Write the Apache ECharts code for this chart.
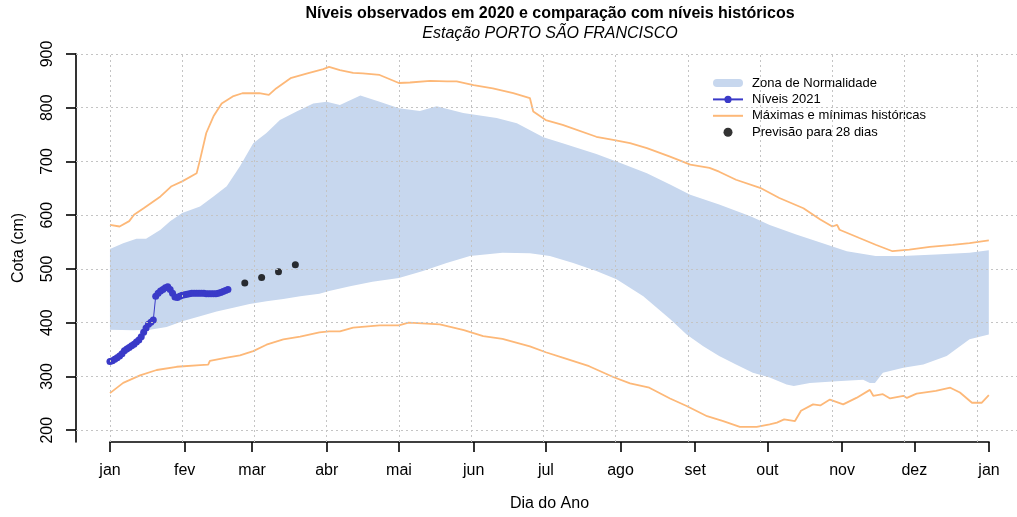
<!DOCTYPE html>
<html>
<head>
<meta charset="utf-8">
<script src="https://cdn.jsdelivr.net/npm/echarts/dist/echarts.min.js"></script>
<style>
  html, body { margin: 0; padding: 0; background: #fff; }
  #chart { width: 1017px; height: 517px; }
</style>
</head>
<body>
<div id="chart"></div>
<script>
// dia do ano (0 = 1 de janeiro) e cota em cm
var months = ['jan', 'fev', 'mar', 'abr', 'mai', 'jun', 'jul', 'ago', 'set', 'out', 'nov', 'dez', 'jan'];
var monthStarts = [0, 31, 59, 90, 120, 151, 181, 212, 243, 273, 304, 334, 365];
var levelTicks = [200, 300, 400, 500, 600, 700, 800, 900];
var gridDays = [0, 30, 60, 90, 120, 150, 180, 210, 240, 270, 300, 330, 360];

var normUpper = [
    [0, 537], [5.5, 548], [11, 556], [15, 556], [21, 573], [25, 589], [30, 604], [37.4, 616],
    [43, 635], [48.5, 654], [54, 691], [59.5, 734], [65, 753], [70.6, 777], [77.5, 793],
    [84.4, 808], [90, 811], [95.5, 805], [104, 823], [112, 811], [120, 799], [128.7, 794],
    [135.7, 803], [146.7, 790], [160.6, 781], [169, 771], [180, 745], [188, 734], [202, 714],
    [212, 697], [223, 678], [232.6, 657], [241, 638], [253, 620], [266, 598], [274, 582],
    [285, 564], [296, 548], [306, 533], [318, 524], [329, 524], [343, 527], [357, 530], [365, 535]
];
var normLower = [
    [0, 387], [9.7, 386], [16.6, 387], [23.5, 392], [30.4, 403], [37.4, 412], [44.3, 421],
    [51.2, 428], [58, 435], [65, 440], [72, 444], [79, 449], [87, 454], [91, 459], [99.7, 468],
    [109, 476], [120, 483], [130, 496], [139.8, 511], [149.5, 524], [163, 530], [174.4, 529],
    [182.7, 524], [192.4, 511], [202, 496], [210.4, 481], [221.5, 449], [232.6, 407],
    [239.5, 378], [246.4, 356], [253, 338], [260, 322], [267, 307], [274, 298], [281, 285],
    [284, 282], [290.7, 288], [301.8, 291], [312.8, 294], [315.6, 288], [317.7, 288], [321, 307],
    [329.5, 316], [337.8, 322], [347.5, 338], [357, 369], [365, 378]
];
var maxHist = [
    [0, 582], [4, 579], [8, 589], [10, 601], [14, 613], [21, 635], [25.6, 654], [30, 663],
    [36, 678], [37.4, 703], [40, 753], [43, 784], [46.4, 808], [51, 821], [55, 827], [62, 827],
    [66, 824], [69, 836], [75, 855], [82, 864], [88.6, 872], [91, 876], [95.5, 870], [101, 865],
    [105, 864], [112, 861], [120, 846], [124.6, 847], [133, 850], [140, 849], [144, 849],
    [151, 842], [159, 836], [167.5, 827], [174.4, 818], [175, 815], [175.8, 793], [181, 777],
    [188, 768], [202, 746], [209, 740], [216, 734], [223, 725], [232.6, 709], [241, 694],
    [249, 688], [253, 681], [260, 666], [270, 651], [278, 632], [288, 613], [295, 592],
    [300, 579], [302, 582], [303, 573], [311, 558], [318, 545], [325, 533], [332, 536],
    [340.5, 541], [350, 545], [357, 548], [365, 553]
];
var minHist = [
    [0, 269], [5.5, 288], [12.5, 302], [19.4, 312], [27.7, 318], [37.4, 321], [40.8, 322],
    [41.5, 329], [48.5, 335], [54, 339], [59.5, 347], [65, 359], [72, 369], [79, 374], [87, 382],
    [91, 384], [95.5, 384], [101, 391], [112, 395], [120, 395], [124, 400], [137, 397], [147, 386],
    [155, 375], [163, 370], [174.4, 356], [181, 345], [188, 335], [199, 319], [209, 299],
    [216, 287], [224, 279], [232.6, 259], [239.5, 245], [248, 226], [254.7, 217], [261.6, 206],
    [268.6, 206], [274, 211], [277, 214], [280, 220], [284.5, 217], [287, 236], [292, 248],
    [295, 246], [299, 257], [304.5, 248], [310, 260], [315.6, 275], [317, 264], [321, 267],
    [324, 259], [329.5, 264], [331, 260], [335, 268], [343, 273], [349, 279], [353, 270],
    [358, 251], [362, 251], [365, 265]
];
var levels2021 = [
    328, 329, 332, 335, 338, 342, 348, 351, 354, 357,
    360, 364, 368, 374, 382, 390, 397, 401, 405, 449,
    455, 459, 462, 465, 467, 462, 455, 448, 447, 449,
    451, 452, 453, 454, 455, 455, 455, 455, 455, 455,
    454, 454, 454, 454, 454, 455, 456, 458, 460, 462
];
var forecastDays = [56, 63, 70, 77];
var forecastLevels = [474, 484, 495, 508];

var font = "'Liberation Sans', Arial, sans-serif";
var bandColor = '#c7d7ee';
var orange = '#fdb878';
var blue = '#3a3ac8';

var chart = echarts.init(document.getElementById('chart'));

function renderBand(params, api) {
    if (params.dataIndex !== 0) return;
    var pts = normUpper.map(function (p) { return api.coord(p); })
        .concat(normLower.slice().reverse().map(function (p) { return api.coord(p); }));
    return { type: 'polygon', shape: { points: pts }, style: { fill: bandColor }, silent: true };
}

var gridMarks = gridDays.map(function (d) { return { xAxis: d }; })
    .concat(levelTicks.map(function (v) { return { yAxis: v }; }));

chart.setOption({
    animation: false,
    backgroundColor: '#fff',
    textStyle: { fontFamily: font },
    title: [
        {
            text: 'Níveis observados em 2020 e comparação com níveis históricos',
            left: 550, top: 6, padding: 0, textAlign: 'center',
            textStyle: { fontSize: 16, fontWeight: 'bold', color: '#000', fontFamily: font }
        },
        {
            text: 'Estação PORTO SÃO FRANCISCO',
            left: 550, top: 26, padding: 0, textAlign: 'center',
            textStyle: { fontSize: 16, fontWeight: 'normal', fontStyle: 'italic', color: '#000', fontFamily: font }
        }
    ],
    legend: {
        orient: 'vertical',
        left: 712,
        top: 76,
        padding: 0,
        itemWidth: 30,
        itemHeight: 9,
        itemGap: 2.4,
        textStyle: { fontSize: 13, lineHeight: 14, color: '#000', fontFamily: font, padding: [0, 0, 0, 4] },
        data: [
            { name: 'Zona de Normalidade', icon: 'path://M4,0 H26 A4,4 0 0 1 26,8 H4 A4,4 0 0 1 4,0 Z', itemStyle: { color: bandColor } },
            { name: 'Níveis 2021' },
            { name: 'Máximas e mínimas históricas', itemStyle: { color: 'rgba(0,0,0,0)', opacity: 0, borderWidth: 0 } },
            { name: 'Previsão para 28 dias', icon: 'circle' }
        ]
    },
    grid: [
        { left: 76, right: 0, top: 54, bottom: 75 },
        { left: 110, width: 879, top: 441, height: 1 }
    ],
    xAxis: [
        {
            gridIndex: 0, type: 'value', min: -14.1, max: 376.7,
            axisLine: { show: false }, axisTick: { show: false },
            axisLabel: { show: false }, splitLine: { show: false }
        },
        {
            gridIndex: 1, type: 'value', min: 0, max: 365, position: 'bottom',
            name: 'Dia do Ano', nameLocation: 'middle', nameGap: 54,
            nameTextStyle: { fontSize: 16, color: '#000', fontFamily: font },
            axisLine: { show: true, onZero: false, lineStyle: { color: '#000', width: 1.6 } },
            axisTick: { show: true, customValues: monthStarts, length: 10, lineStyle: { color: '#000', width: 1.6 } },
            axisLabel: {
                customValues: monthStarts, margin: 21, fontSize: 16, color: '#000', fontFamily: font,
                formatter: function (v) { return months[monthStarts.indexOf(v)]; }
            },
            splitLine: { show: false }
        }
    ],
    yAxis: [
        {
            gridIndex: 0, type: 'value', min: 178, max: 900, position: 'left',
            name: 'Cota (cm)', nameLocation: 'middle', nameGap: 49,
            nameTextStyle: { fontSize: 16, color: '#000', fontFamily: font },
            axisLine: { show: true, onZero: false, lineStyle: { color: '#000', width: 1.6 } },
            axisTick: { show: true, customValues: levelTicks, length: 10, lineStyle: { color: '#000', width: 1.6 } },
            axisLabel: { customValues: levelTicks, rotate: 90, margin: 20, fontSize: 16, color: '#000', fontFamily: font },
            splitLine: { show: false }
        },
        { gridIndex: 1, type: 'value', show: false }
    ],
    series: [
        {
            name: 'Zona de Normalidade',
            type: 'custom',
            xAxisIndex: 0, yAxisIndex: 0,
            renderItem: renderBand,
            itemStyle: { color: bandColor },
            data: normUpper,
            silent: true,
            z: 1
        },
        {
            name: 'Máximas e mínimas históricas',
            type: 'line',
            xAxisIndex: 0, yAxisIndex: 0,
            data: maxHist,
            symbol: 'none',
            itemStyle: { color: orange },
            lineStyle: { color: orange, width: 1.8 },
            markLine: {
                silent: true,
                symbol: 'none',
                label: { show: false },
                lineStyle: { color: '#c4c4c4', type: [2, 3], width: 1 },
                data: gridMarks
            },
            z: 2
        },
        {
            name: 'Máximas e mínimas históricas',
            type: 'line',
            xAxisIndex: 0, yAxisIndex: 0,
            data: minHist,
            symbol: 'none',
            itemStyle: { color: orange },
            lineStyle: { color: orange, width: 1.8 },
            z: 2
        },
        {
            name: 'Níveis 2021',
            type: 'line',
            xAxisIndex: 0, yAxisIndex: 0,
            data: levels2021.map(function (v, i) { return [i, v]; }),
            symbol: 'circle',
            symbolSize: 7,
            itemStyle: { color: blue },
            lineStyle: { color: blue, width: 1 },
            z: 3
        },
        {
            name: 'Previsão para 28 dias',
            type: 'scatter',
            xAxisIndex: 0, yAxisIndex: 0,
            data: forecastDays.map(function (d, i) { return [d, forecastLevels[i]]; }),
            symbolSize: 7,
            itemStyle: { color: '#000' },
            z: 4
        }
    ]
});
</script>
</body>
</html>
